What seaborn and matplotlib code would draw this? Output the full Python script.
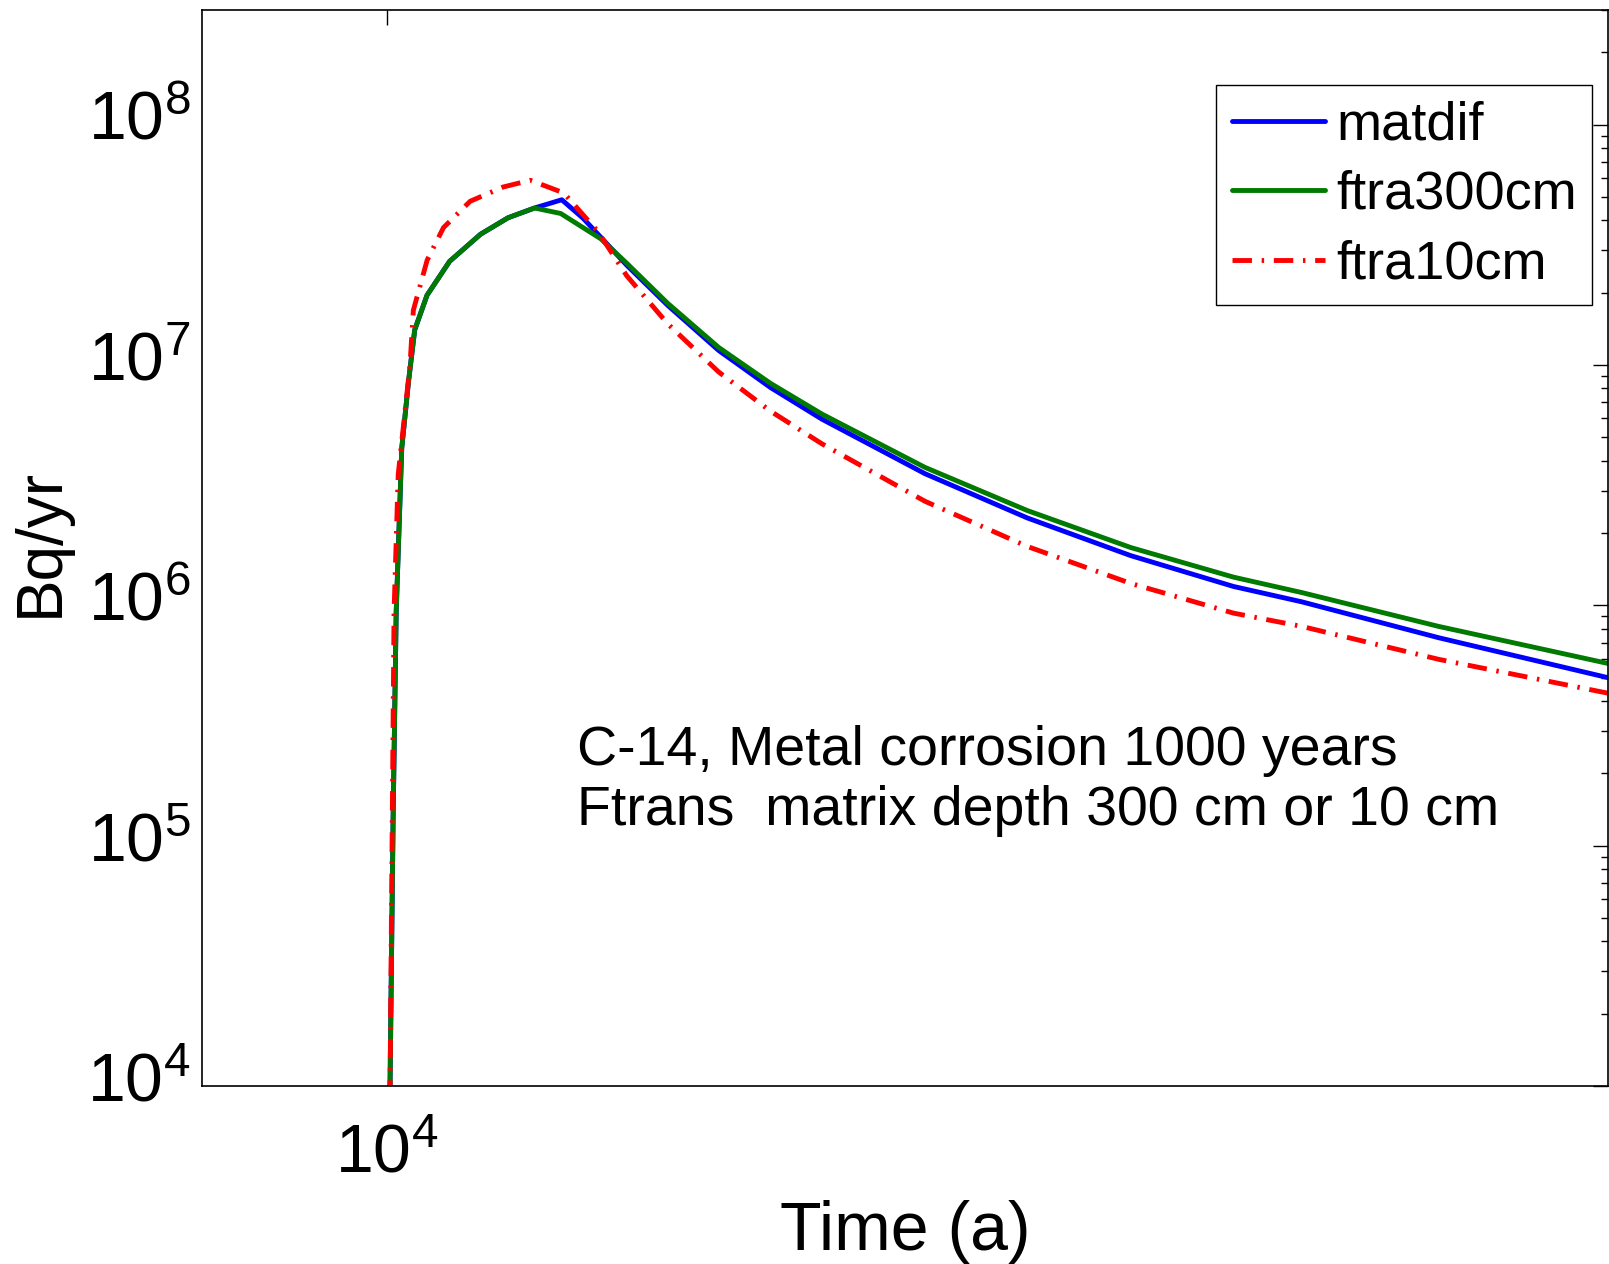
import matplotlib
matplotlib.use('Agg')
import matplotlib.pyplot as plt
from matplotlib.ticker import NullLocator, LogLocator
from matplotlib.transforms import ScaledTranslation
import seaborn as sns

# C-14 release rate (Bq/yr) vs time (a)
t_matdif = [10010, 10020, 10040, 10060, 10096, 10140, 10181, 10262, 10413, 10623, 10814, 11000,
            11195, 11352, 11481, 11675, 11988, 12389, 12810, 13243, 14154, 15121, 16165, 17275,
            18054, 19723, 22000]
q_matdif = [1e3, 1e4, 1.3e5, 9.4e5, 4.5e6, 8.5e6, 1.4e7, 1.95e7, 2.7e7, 3.5e7, 4.1e7, 4.5e7,
            4.87e7, 4.07e7, 3.4e7, 2.6e7, 1.77e7, 1.149e7, 8.06e6, 5.95e6, 3.53e6, 2.31e6, 1.61e6,
            1.198e6, 1.034e6, 7.33e5, 5.0e5]

t_ftra300 = [10010, 10020, 10040, 10060, 10096, 10140, 10181, 10262, 10413, 10623, 10814, 11000,
             11187, 11481, 11675, 11988, 12389, 12810, 13243, 14154, 15121, 16165, 17275, 18054,
             19723, 22000]
q_ftra300 = [1e3, 1e4, 1.3e5, 9.4e5, 4.5e6, 8.5e6, 1.4e7, 1.95e7, 2.7e7, 3.5e7, 4.1e7, 4.5e7,
             4.27e7, 3.35e7, 2.65e7, 1.805e7, 1.183e7, 8.39e6, 6.25e6, 3.75e6, 2.48e6, 1.74e6,
             1.31e6, 1.13e6, 8.17e5, 5.73e5]

t_ftra10 = [10010, 10020, 10033, 10046, 10073, 10150, 10172, 10263, 10372, 10552, 10778, 10970,
            11209, 11458, 11675, 11988, 12389, 12810, 13243, 14154, 15121, 16165, 17275, 18054,
            19723, 22000]
q_ftra10 = [1e3, 1e4, 1e5, 9.4e5, 3.5e6, 1.0e7, 1.69e7, 2.73e7, 3.73e7, 4.8e7, 5.5e7, 5.87e7,
            5.2e7, 3.6e7, 2.35e7, 1.483e7, 9.35e6, 6.43e6, 4.7e6, 2.71e6, 1.758e6, 1.234e6,
            9.28e5, 8.17e5, 5.96e5, 4.31e5]

y_ticks = [1e4, 1e5, 1e6, 1e7, 1e8]
y_labels = ['$10^{4}$', '$10^{5}$', '$10^{6}$', '$10^{7}$', '$10^{8}$']
x_ticks = [1e4]
x_labels = ['$10^{4}$']

sns.set_style('white')
plt.rcParams['font.family'] = ['Liberation Sans', 'DejaVu Sans']
plt.rcParams['mathtext.fontset'] = 'custom'
plt.rcParams['mathtext.rm'] = 'Liberation Sans'
plt.rcParams['mathtext.it'] = 'Liberation Sans:italic'
plt.rcParams['mathtext.bf'] = 'Liberation Sans:bold'
for k in ['text.color', 'axes.labelcolor', 'xtick.color', 'ytick.color']:
    plt.rcParams[k] = 'black'

fig = plt.figure(figsize=(16.09, 12.64), dpi=100)
ax = fig.add_axes([0.1255, 0.1408, 0.8739, 0.8513])

sns.lineplot(x=t_matdif, y=q_matdif, ax=ax, color='#0000ff', lw=3.5,
             label='matdif', estimator=None, sort=False)
sns.lineplot(x=t_ftra300, y=q_ftra300, ax=ax, color='#007a00', lw=3.5,
             label='ftra300cm', estimator=None, sort=False)
sns.lineplot(x=t_ftra10, y=q_ftra10, ax=ax, color='#ff0000', lw=3.5,
             linestyle=(0, (4, 2, 0.5, 2)), label='ftra10cm', estimator=None, sort=False)

ax.set_xscale('log')
ax.set_yscale('log')
ax.set_xlim(8874, 22000)
ax.set_ylim(1e4, 3e8)

ax.set_xticks(x_ticks)
ax.set_xticklabels(x_labels)
ax.xaxis.set_minor_locator(NullLocator())
ax.set_yticks(y_ticks)
ax.set_yticklabels(y_labels)
ax.yaxis.set_minor_locator(LogLocator(base=10, subs=range(2, 10)))

ax.tick_params(which='both', direction='in', top=True, right=True, colors='black')
ax.tick_params(which='major', length=11, width=1)
ax.tick_params(which='minor', length=5, width=1)
ax.tick_params(axis='y', labelsize=49, pad=8)
ax.tick_params(axis='x', labelsize=49, pad=26)
for s in ax.spines.values():
    s.set_color('black')
    s.set_linewidth(1.2)

# MATLAB centres the "10" on the tick, superscript sits above it
shift = ScaledTranslation(0, 7 / 72, fig.dpi_scale_trans)
for lbl in ax.get_yticklabels():
    lbl.set_transform(lbl.get_transform() + shift)

ax.set_xlabel('Time (a)', fontsize=49)
ax.set_ylabel('Bq/yr', fontsize=46)
ax.xaxis.set_label_coords(0.5, -0.106)
ax.yaxis.set_label_coords(-0.093, 0.505)

ax.text(0.2667, 0.2835, 'C-14, Metal corrosion 1000 years\nFtrans  matrix depth 300 cm or 10 cm',
        transform=ax.transAxes, fontsize=40, ha='left', va='center', linespacing=1.2)

leg = ax.legend(loc='upper right', bbox_to_anchor=(0.9886, 0.930), fontsize=39,
                frameon=True, fancybox=False, edgecolor='black', framealpha=1,
                borderaxespad=0, handlelength=1.73, handletextpad=0.2,
                borderpad=0.28, labelspacing=0.36)
leg.get_frame().set_linewidth(1.0)

fig.savefig('out.png', dpi=100)
